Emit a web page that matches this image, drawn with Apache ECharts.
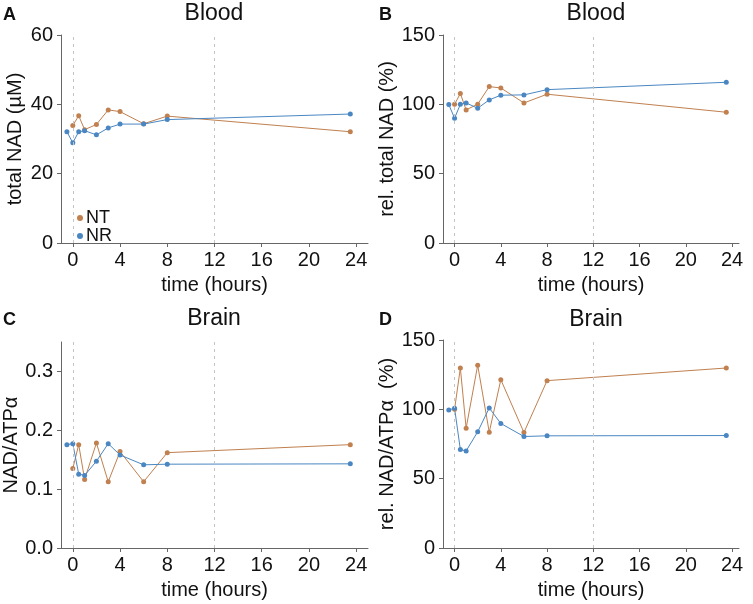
<!DOCTYPE html>
<html>
<head>
<meta charset="utf-8">
<script src="https://cdn.jsdelivr.net/npm/echarts@6/dist/echarts.min.js"></script>
<style>
  html, body { margin: 0; padding: 0; background: #fff; }
  #main { width: 753px; height: 604px; }
</style>
</head>
<body>
<div id="main"></div>
<script>
// time points (hours)
const timesNT = [0, 0.5, 1, 2, 3, 4, 6, 8, 23.5];
const timesNR = [-0.5, 0, 0.5, 1, 2, 3, 4, 6, 8, 23.5];
const xTicks = [0, 4, 8, 12, 16, 20, 24];

// A - blood total NAD (uM)
const bloodNT = [33.9, 36.7, 32.7, 34.2, 38.4, 37.9, 34.4, 36.6, 32.1];
const bloodNR = [32.1, 28.9, 32.1, 32.4, 31.2, 33.2, 34.3, 34.3, 35.6, 37.2];
// B - blood relative total NAD (%)
const bloodRelNT = [100, 107.8, 96, 100.1, 112.8, 111.8, 101, 107.3, 94.3];
const bloodRelNR = [99.8, 90, 100, 101, 97.2, 103.2, 106.6, 106.8, 110.6, 115.9];
// C - brain NAD/ATPa
const brainNT = [0.135, 0.1756, 0.1165, 0.1784, 0.1126, 0.1638, 0.1126, 0.162, 0.1756];
const brainNR = [0.1756, 0.1773, 0.1255, 0.1233, 0.1475, 0.1773, 0.158, 0.1413, 0.1424, 0.143];
// D - brain relative NAD/ATPa (%)
const brainRelNT = [100, 129.8, 86.4, 131.8, 83.5, 121.4, 83.3, 120.7, 129.8];
const brainRelNR = [99.6, 100.8, 71, 70, 83.8, 101, 89.8, 80.4, 80.9, 81.1];

const colNT = '#c0804f';
const colNR = '#4a87c2';
const axisCol = '#666';
const font = 'Liberation Sans, Arial, sans-serif';

function pairs(xs, ys) {
  return xs.map((x, i) => [x, ys[i]]);
}

const grids = [
  { left: 61, top: 35, width: 307, height: 208 },
  { left: 443, top: 35, width: 296, height: 208 },
  { left: 61, top: 342, width: 307, height: 206 },
  { left: 443, top: 340, width: 296, height: 208 }
];

const xMax = [25, 24.6, 25, 24.6];

const xAxes = grids.map((g, i) => ({
  type: 'value',
  gridIndex: i,
  min: -1,
  max: xMax[i],
  name: 'time (hours)',
  nameLocation: 'middle',
  nameGap: 32,
  nameTextStyle: { fontFamily: font, fontSize: 20, color: '#111' },
  axisLine: { show: true, onZero: false, lineStyle: { color: axisCol, width: 1 } },
  axisTick: { show: true, length: 4, inside: false, customValues: xTicks, lineStyle: { color: axisCol } },
  axisLabel: { customValues: xTicks, fontFamily: font, fontSize: 20, color: '#111', margin: 7 },
  splitLine: { show: false }
}));

const yDefs = [
  { name: 'total NAD (µM)', max: 60, ticks: [0, 20, 40, 60], gap: 36, fmt: v => v },
  { name: 'rel. total NAD (%)', max: 150, ticks: [0, 50, 100, 150], gap: 44, fmt: v => v },
  { name: 'NAD/ATPα', max: 0.35, ticks: [0, 0.1, 0.2, 0.3], gap: 38, fmt: v => v.toFixed(1) },
  { name: 'rel. NAD/ATPα  (%)', max: 150, ticks: [0, 50, 100, 150], gap: 44, fmt: v => v }
];

const yAxes = yDefs.map((d, i) => ({
  type: 'value',
  gridIndex: i,
  min: 0,
  max: d.max,
  name: d.name,
  nameLocation: 'middle',
  nameGap: d.gap,
  nameTextStyle: { fontFamily: font, fontSize: 20, color: '#111' },
  axisLine: { show: true, onZero: false, lineStyle: { color: axisCol, width: 1 } },
  axisTick: { show: true, length: 4, customValues: d.ticks, lineStyle: { color: axisCol } },
  axisLabel: { customValues: d.ticks, formatter: d.fmt, fontFamily: font, fontSize: 20, color: '#111', margin: 8 },
  splitLine: { show: false }
}));

const panels = [
  [bloodNT, bloodNR],
  [bloodRelNT, bloodRelNR],
  [brainNT, brainNR],
  [brainRelNT, brainRelNR]
];

const series = [];
panels.forEach((p, i) => {
  series.push({
    name: 'NT',
    type: 'line',
    xAxisIndex: i,
    yAxisIndex: i,
    data: pairs(timesNT, p[0]),
    symbol: 'circle',
    symbolSize: 5,
    itemStyle: { color: colNT },
    lineStyle: { color: colNT, width: 1 },
    silent: true,
    markLine: {
      silent: true,
      symbol: 'none',
      label: { show: false },
      lineStyle: { color: '#c4c4c4', type: [3, 4], width: 1 },
      data: [{ xAxis: 0 }, { xAxis: 12 }]
    }
  });
  series.push({
    name: 'NR',
    type: 'line',
    xAxisIndex: i,
    yAxisIndex: i,
    data: pairs(timesNR, p[1]),
    symbol: 'circle',
    symbolSize: 5,
    itemStyle: { color: colNR },
    lineStyle: { color: colNR, width: 1 },
    silent: true
  });
});

const titleStyle = { fontFamily: font, fontSize: 23, fontWeight: 'normal', color: '#111' };
const letterStyle = { fontFamily: font, fontSize: 18, fontWeight: 'bold', color: '#111' };

const option = {
  animation: false,
  backgroundColor: '#fff',
  title: [
    { text: 'Blood', left: 214, top: 2, textAlign: 'center', textStyle: titleStyle, padding: 0 },
    { text: 'Blood', left: 596, top: 2, textAlign: 'center', textStyle: titleStyle, padding: 0 },
    { text: 'Brain', left: 214, top: 307, textAlign: 'center', textStyle: titleStyle, padding: 0 },
    { text: 'Brain', left: 596, top: 308, textAlign: 'center', textStyle: titleStyle, padding: 0 },
    { text: 'A', left: 3, top: 6, textStyle: letterStyle, padding: 0 },
    { text: 'B', left: 379, top: 6, textStyle: letterStyle, padding: 0 },
    { text: 'C', left: 3, top: 311, textStyle: letterStyle, padding: 0 },
    { text: 'D', left: 379, top: 311, textStyle: letterStyle, padding: 0 }
  ],
  legend: {
    data: ['NT', 'NR'],
    orient: 'vertical',
    left: 77,
    top: 209,
    padding: 0,
    itemGap: 0,
    itemWidth: 6,
    itemHeight: 6,
    icon: 'circle',
    selectedMode: false,
    textStyle: { fontFamily: font, fontSize: 18, color: '#111', lineHeight: 16, padding: [0, 0, 0, -2] }
  },
  grid: grids,
  xAxis: xAxes,
  yAxis: yAxes,
  series: series
};

const chart = echarts.init(document.getElementById('main'), null, { renderer: 'canvas' });
chart.setOption(option);
</script>
</body>
</html>
